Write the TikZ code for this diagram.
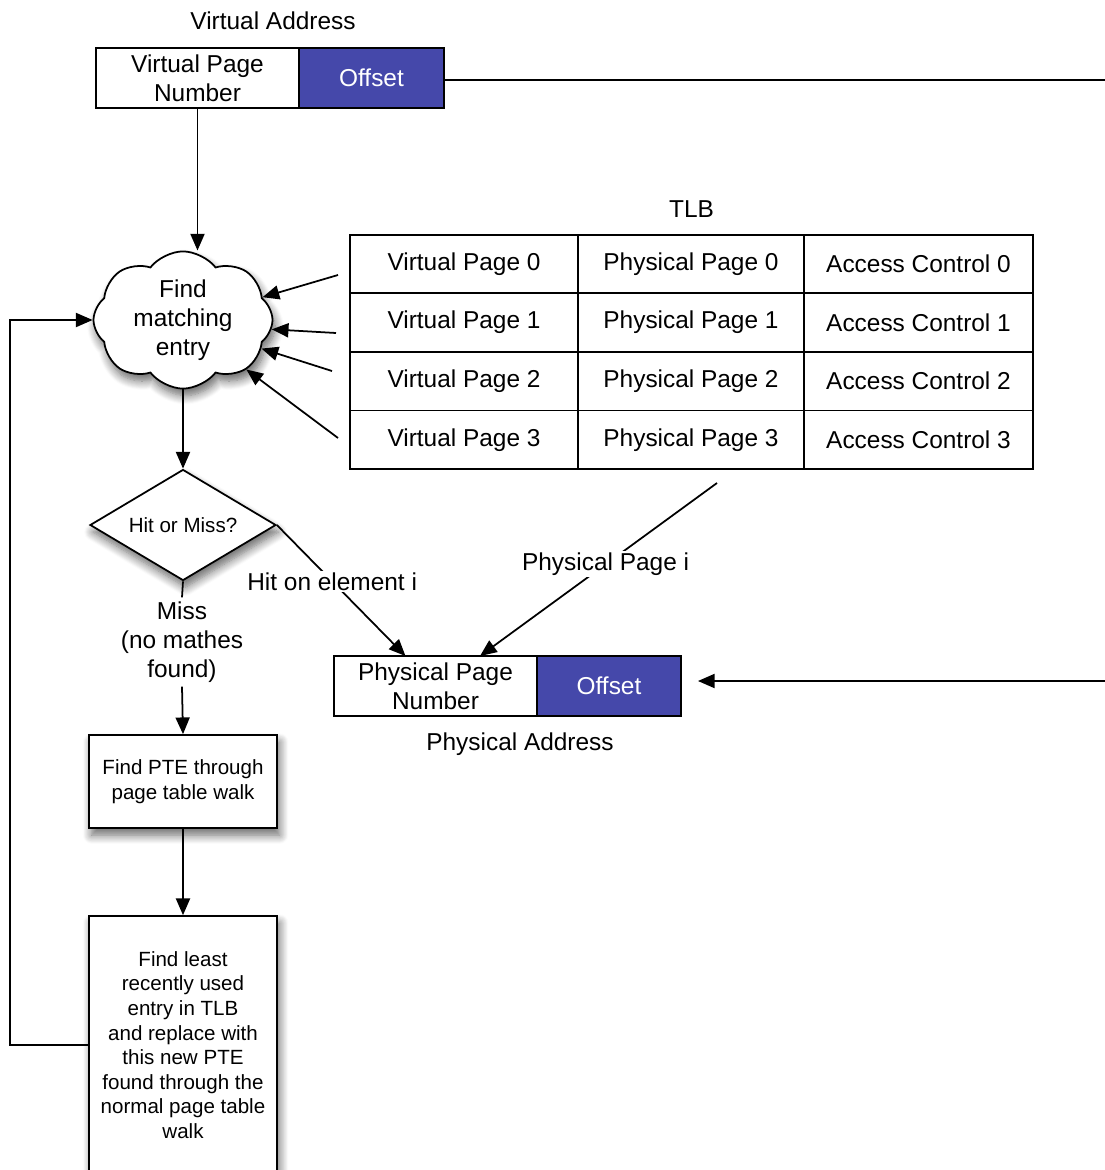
\documentclass[tikz,border=0pt]{standalone}
\usepackage{fontspec}
\setmainfont{Liberation Sans}
\usetikzlibrary{positioning,arrows.meta,shapes.geometric,shapes.symbols,shadows.blur,calc}
\definecolor{offsetblue}{RGB}{69,72,170}
\newcommand{\tlbfont}{\fontsize{13.9}{16.4}\selectfont}
\newcommand{\notefont}{\fontsize{11.7}{14}\selectfont}
\tikzset{
  arr/.style={-{Triangle[length=9.5pt,width=8pt]}},
  field/.style={draw, minimum height=1.2cm, inner sep=0pt, outer sep=0pt, align=center, font=\tlbfont},
  offsetfield/.style={field, fill=offsetblue, text=white},
  cell/.style={draw, minimum height=1.172cm, inner sep=0pt, outer sep=0pt, font=\tlbfont},
  shadowed/.style={blur shadow={shadow xshift=1.5pt, shadow yshift=-4pt, shadow blur steps=10, shadow blur radius=5pt, shadow opacity=60}},
  stepbox/.style={draw, fill=white, shadowed, align=center, font=\notefont, minimum width=3.76cm, inner sep=2pt},
}
\begin{document}
\begin{tikzpicture}[x=0.02cm, y=-0.02cm, line width=1pt]
\useasboundingbox (0,0) rectangle (1105,1170);

% Virtual address
\node[font=\tlbfont] (valabel) at (273,21) {Virtual Address};
\node[field, minimum width=4.06cm] (vpn) at (197.5,78) {Virtual Page\\Number};
\node[offsetfield, minimum width=2.9cm, right=0pt of vpn] (voff) {Offset};

% TLB
\node[font=\tlbfont] (tlblabel) at (691.5,209) {TLB};
\foreach \r/\y in {0/264,1/322.6,2/381.2,3/439.8} {
  \node[cell, minimum width=4.56cm] (vp\r) at (464,\y) {Virtual Page \r};
  \node[cell, minimum width=4.52cm] (pp\r) at (691,\y) {Physical Page \r};
  \node[cell, minimum width=4.58cm] (ac\r) at (918.5,\y) {Access Control \r};
}

% Lookup
\node[cloud, draw, fill=white, shadowed, cloud puffs=8, cloud puff arc=105, aspect=1.5,
  minimum width=3.54cm, minimum height=2.32cm, inner sep=0pt, align=center, font=\tlbfont]
  (match) at (183,320) {Find\\matching\\entry};
\draw[arr] (vpn.south) -- (vpn.south |- match.north);
\foreach \r/\sx/\sy/\a in {0/338/275/16,1/336/333/-6,2/332/371/-20,3/338/438/-38} {
  \coordinate (tlbout\r) at (\sx,\sy);
  \draw[arr] (tlbout\r) -- (match.\a);
}

% Hit or miss
\node[diamond, draw, fill=white, shadowed, aspect=1.68, minimum width=3.72cm, minimum height=2.22cm,
  inner sep=0pt, font=\notefont] (hitmiss) at (183,525) {Hit or Miss?};
\draw[arr] (match.south) -- (hitmiss.north);

% Miss path
\node[font=\tlbfont, align=center, inner sep=2pt] (misslabel) at (182,642) {Miss\\(no mathes\\found)};
\draw (hitmiss.south) -- (misslabel.north);
\node[stepbox, minimum height=1.86cm] (ptewalk) at (183,781.5) {Find PTE through\\page table walk};
\draw[arr] (misslabel.south) -- (ptewalk.north);
\node[stepbox, minimum height=5.16cm] (lrureplace) at (183,1045)
  {Find least\\recently used\\entry in TLB\\and replace with\\this new PTE\\found through the\\normal page table\\walk};
\draw[arr] (ptewalk.south) -- (lrureplace.north);
\coordinate (loopx) at (10,0);
\draw[arr] (lrureplace.west) -- (lrureplace.west -| loopx) |- (match.west);

% Physical address
\node[field, minimum width=4.06cm] (ppn) at (435.5,686) {Physical Page\\Number};
\node[offsetfield, minimum width=2.88cm, right=0pt of ppn] (poff) {Offset};
\node[font=\tlbfont] (palabel) at (520,744) {Physical Address};

% Hit path
\draw[arr] (hitmiss.east) -- node[pos=0.43, fill=white, font=\tlbfont, inner sep=1pt] (hitlabel) {Hit on element i}
  ($(ppn.north)+(-30,0)$);
\coordinate (tlbhit) at (717,483);
\draw[arr] (tlbhit) -- node[pos=0.47, fill=white, font=\tlbfont, inner sep=1pt] (pplabel) {Physical Page i}
  ($(ppn.north)+(44.5,0)$);

% Offset is passed through
\coordinate (vaedge) at (1105,80);
\draw (vaedge -| voff.east) -- (vaedge);
\coordinate (paedge) at (1105,681);
\draw[arr, shorten >=0.34cm] (paedge) -- (paedge -| poff.east);
\end{tikzpicture}
\end{document}
